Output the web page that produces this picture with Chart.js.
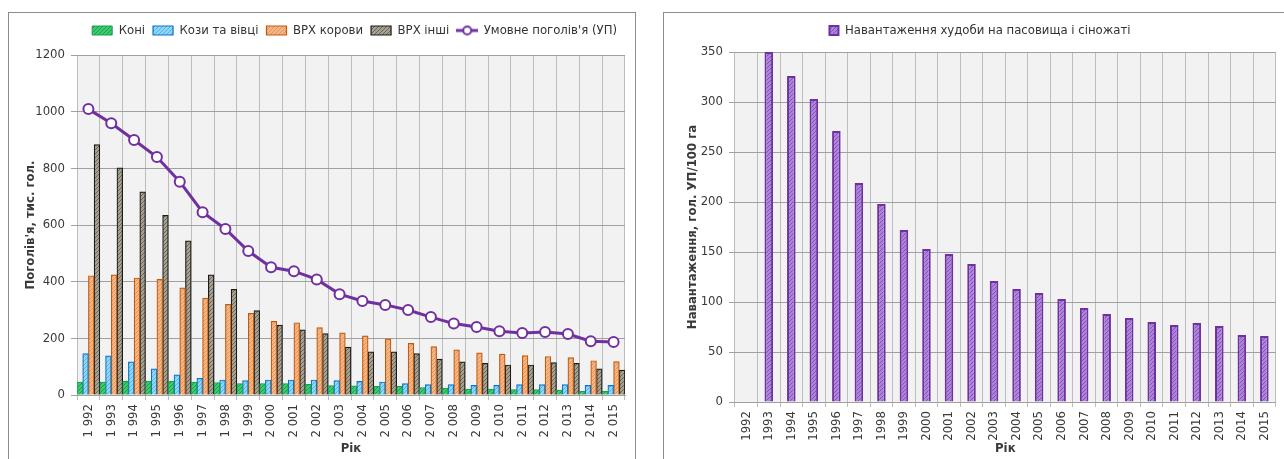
<!DOCTYPE html>
<html>
<head>
<meta charset="utf-8">
<script src="https://cdn.jsdelivr.net/npm/chart.js@4/dist/chart.umd.min.js"></script>
<style>
  body { margin: 0; background: #fff; width: 1284px; height: 459px; overflow: hidden; position: relative; }
  .frame { position: absolute; border: 1px solid #8c8c8c; }
  .box { position: absolute; top: 0; height: 459px; }
</style>
</head>
<body>
<div class="frame" style="left:8px; top:12px; width:626px; height:470px;"></div>
<div class="frame" style="left:663px; top:12px; width:660px; height:470px;"></div>
<div class="box" style="left:0; width:640px;"><canvas id="livestockChart"></canvas></div>
<div class="box" style="left:650px; width:634px;"><canvas id="loadChart"></canvas></div>
<script>
// Роки (підписи осі X)
const labelsLeft = ['1 992', '1 993', '1 994', '1 995', '1 996', '1 997', '1 998', '1 999', '2 000', '2 001', '2 002', '2 003',
  '2 004', '2 005', '2 006', '2 007', '2 008', '2 009', '2 010', '2 011', '2 012', '2 013', '2 014', '2 015'];
const labelsRight = ['1992', '1993', '1994', '1995', '1996', '1997', '1998', '1999', '2000', '2001', '2002', '2003',
  '2004', '2005', '2006', '2007', '2008', '2009', '2010', '2011', '2012', '2013', '2014', '2015'];

// Поголів'я, тис. гол.
const horses = [46, 46, 48, 48, 48, 46, 44, 40, 40, 40, 38, 33, 32, 31, 31, 26, 24, 21, 21, 19, 19, 17, 13, 13];
const goatsSheep = [146, 138, 117, 92, 71, 59, 53, 51, 53, 53, 53, 51, 48, 46, 40, 37, 37, 34, 34, 37, 37, 37, 34, 34];
const cows = [421, 424, 413, 408, 378, 342, 320, 288, 260, 255, 238, 219, 209, 198, 182, 171, 159, 149, 144, 139, 136, 132, 121, 118];
const cattleOther = [884, 802, 717, 634, 544, 424, 373, 298, 247, 230, 217, 169, 152, 152, 146, 127, 117, 112, 106, 106, 114, 112, 92, 88];
const livestockUnits = [1009, 959, 900, 840, 753, 645, 586, 508, 451, 437, 408, 356, 332, 318, 300, 275, 252, 240, 225, 219, 222, 215, 190, 187];

// Навантаження, гол. УП/100 га
const pastureLoad = [null, 350, 326, 303, 271, 219, 198, 172, 153, 148, 138, 121, 113, 109, 103, 94, 88, 84, 80, 77, 79, 76, 67, 66];

const FONT = "'Liberation Sans Narrow', 'DejaVu Sans Condensed', 'Liberation Sans', sans-serif";
Chart.defaults.font.family = FONT;
Chart.defaults.font.size = 13;
Chart.defaults.color = '#3a3a3a';

// візерунок у крапочку, як у заливці стовпців
function dots(bg, fg) {
  const c = document.createElement('canvas');
  c.width = 4; c.height = 4;
  const g = c.getContext('2d');
  g.fillStyle = bg; g.fillRect(0, 0, 4, 4);
  g.fillStyle = fg; g.fillRect(0, 0, 1, 1); g.fillRect(2, 2, 1, 1);
  g.fillRect(1, 3, 1, 1); g.fillRect(3, 1, 1, 1);
  return g.createPattern(c, 'repeat');
}

// значок лінії з маркером для легенди
const lineIcon = document.createElement('canvas');
lineIcon.width = 22; lineIcon.height = 12;
(function () {
  const g = lineIcon.getContext('2d');
  g.strokeStyle = '#7030a0'; g.lineWidth = 3;
  g.beginPath(); g.moveTo(0, 6); g.lineTo(22, 6); g.stroke();
  g.fillStyle = '#fff'; g.lineWidth = 2;
  g.beginPath(); g.arc(11, 6, 4, 0, Math.PI * 2); g.fill(); g.stroke();
})();

const plotBg = {
  id: 'plotBg',
  beforeDraw(chart) {
    const a = chart.chartArea, ctx = chart.ctx;
    ctx.save();
    ctx.fillStyle = '#f2f2f2';
    ctx.fillRect(a.left, a.top, a.right - a.left, a.bottom - a.top);
    ctx.restore();
  }
};

const gridX = { offset: true, color: '#bdbdbd', tickLength: 5 };
const gridY = { color: '#a0a0a0', tickLength: 6 };
const plain = v => String(v);

new Chart(document.getElementById('livestockChart'), {
  type: 'bar',
  data: {
    labels: labelsLeft,
    datasets: [
      { label: 'Коні', data: horses, backgroundColor: dots('#3fca72', '#16a04a'), borderColor: '#16a04a', borderWidth: 1 },
      { label: 'Кози та вівці', data: goatsSheep, backgroundColor: dots('#92d8f6', '#4eb6e6'), borderColor: '#0f70c6', borderWidth: 1.2 },
      { label: 'ВРХ корови', data: cows, backgroundColor: dots('#f5b585', '#e4935a'), borderColor: '#c05a0c', borderWidth: 1.2 },
      { label: 'ВРХ інші', data: cattleOther, backgroundColor: dots('#a6a190', '#6a6558'), borderColor: '#1a1a1a', borderWidth: 1.2 },
      { type: 'line', label: "Умовне поголів'я (УП)", data: livestockUnits, order: -1,
        borderColor: '#7030a0', borderWidth: 3, backgroundColor: '#fff',
        pointRadius: 5, pointBorderWidth: 2, pointBackgroundColor: '#fff', pointBorderColor: '#7030a0' }
    ]
  },
  options: {
    responsive: true,
    maintainAspectRatio: false,
    animation: false,
    layout: { padding: { top: 16, left: 18, right: 15, bottom: 0 } },
    datasets: { bar: { categoryPercentage: 1, barPercentage: 1 } },
    plugins: {
      tooltip: { enabled: false },
      title: { display: true, text: '', weight: 500, font: { size: 1, lineHeight: 1 }, padding: { top: 7, bottom: 0 } },
      legend: {
        align: 'end',
        labels: {
          usePointStyle: true, pointStyleWidth: 20, boxHeight: 9, padding: 8, font: { size: 13 }, color: '#333',
          generateLabels(chart) {
            const items = Chart.defaults.plugins.legend.labels.generateLabels(chart);
            items.sort((a, b) => a.datasetIndex - b.datasetIndex);
            items.forEach(it => { it.pointStyle = it.datasetIndex === 4 ? lineIcon : 'rect'; });
            return items;
          }
        }
      }
    },
    scales: {
      x: {
        grid: gridX,
        border: { color: '#a0a0a0' },
        ticks: { autoSkip: false, minRotation: 90, maxRotation: 90, padding: 4 },
        title: { display: true, text: 'Рік', font: { weight: 'bold', size: 13 }, padding: { top: 2, bottom: 3 } },
        afterFit(scale) { scale.height = 64; }
      },
      y: {
        min: 0, max: 1200,
        grid: gridY,
        border: { display: false },
        ticks: { stepSize: 200, padding: 6, callback: plain },
        title: { display: true, text: "Поголів'я, тис. гол.", font: { weight: 'bold', size: 13 }, padding: { top: 5, bottom: 0 } },
        afterFit(scale) { scale.width = 59; }
      }
    }
  },
  plugins: [plotBg]
});

new Chart(document.getElementById('loadChart'), {
  type: 'bar',
  data: {
    labels: labelsRight,
    datasets: [
      { label: 'Навантаження худоби на пасовища і сіножаті', data: pastureLoad,
        backgroundColor: dots('#ad85d8', '#8250bc'), borderColor: '#7030a0', borderWidth: 2 }
    ]
  },
  options: {
    responsive: true,
    maintainAspectRatio: false,
    animation: false,
    layout: { padding: { top: 16, left: 28, right: 2, bottom: 0 } },
    datasets: { bar: { categoryPercentage: 1, barPercentage: 0.38 } },
    plugins: {
      tooltip: { enabled: false },
      title: { display: true, text: '', weight: 500, font: { size: 1, lineHeight: 1 }, padding: { top: 4, bottom: 0 } },
      legend: {
        labels: { boxWidth: 9, boxHeight: 9, padding: 8, font: { size: 13 }, color: '#333' }
      }
    },
    scales: {
      x: {
        grid: gridX,
        border: { color: '#a0a0a0' },
        ticks: { autoSkip: false, minRotation: 90, maxRotation: 90, padding: 4 },
        title: { display: true, text: 'Рік', font: { weight: 'bold', size: 13 }, padding: { top: 2, bottom: 3 } },
        afterFit(scale) { scale.height = 57; }
      },
      y: {
        min: 0, max: 350,
        grid: gridY,
        border: { display: false },
        ticks: { stepSize: 50, padding: 6, callback: plain },
        title: { display: true, text: 'Навантаження, гол. УП/100 га', font: { weight: 'bold', size: 13 }, padding: { top: 7, bottom: 0 } },
        afterFit(scale) { scale.width = 57; }
      }
    }
  },
  plugins: [plotBg]
});
</script>
</body>
</html>
